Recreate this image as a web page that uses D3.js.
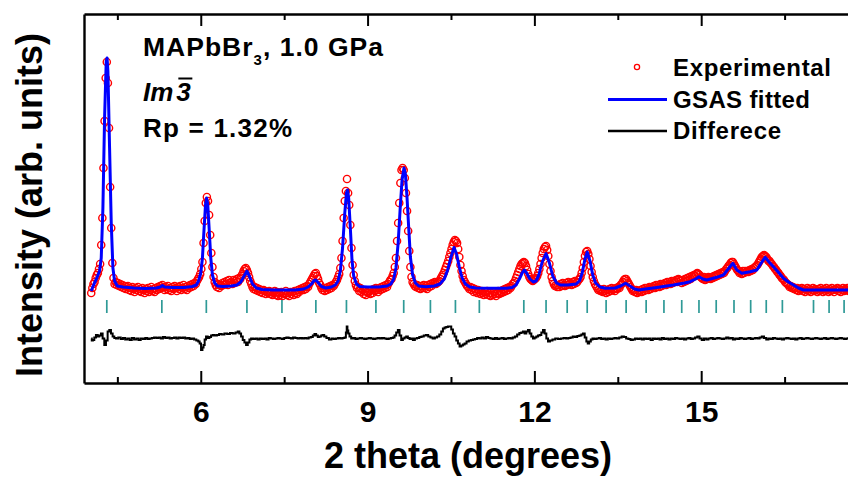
<!DOCTYPE html>
<html>
<head>
<meta charset="utf-8">
<script src="https://cdn.jsdelivr.net/npm/d3@7"></script>
<style>
  html, body { margin: 0; padding: 0; background: #fff; }
  svg { display: block; }
  text { font-family: "Liberation Sans", Arial, sans-serif; font-weight: bold; fill: #000; }
</style>
</head>
<body>
<svg id="chart" width="848" height="482"></svg>
<script>
// Powder pattern of MAPbBr3 at 1.0 GPa: observed points, GSAS fit, difference, reflections.

// observed intensities on a constant 2theta grid (start, step), counts in arb. units
const obsStart = 4.03;
const obsStep = 0.02;
const obsCounts = [
  /* 4.03 */ 90,95,99,101,105,108,110,114,119,138,
  /* 4.23 */ 165,215,262,305,321,300,255,196,155,120,
  /* 4.43 */ 105,99,101,98,100,97,99,96,98,95,
  /* 4.63 */ 97,94,96,97,93,95,92,96,94,91,
  /* 4.83 */ 95,93,96,92,94,91,95,93,90,94,
  /* 5.03 */ 92,95,91,93,96,92,94,91,95,93,
  /* 5.23 */ 96,94,97,95,98,96,93,96,94,97,
  /* 5.43 */ 93,95,92,96,94,97,95,92,96,94,
  /* 5.63 */ 97,93,95,98,94,96,93,97,95,98,
  /* 5.83 */ 96,99,97,100,99,102,104,106,109,114,
  /* 6.03 */ 121,140,162,180,186,182,168,148,130,116,
  /* 6.23 */ 106,101,98,96,99,95,98,97,100,98,
  /* 6.43 */ 101,99,102,98,103,100,101,99,103,100,
  /* 6.63 */ 102,104,101,105,104,107,109,112,114,115,
  /* 6.83 */ 113,110,106,102,99,96,94,96,93,95,
  /* 7.03 */ 92,94,91,93,90,93,92,89,91,90,
  /* 7.23 */ 92,89,91,88,90,92,88,91,87,90,
  /* 7.43 */ 88,91,87,90,89,92,88,90,87,91,
  /* 7.63 */ 89,91,88,92,90,89,93,91,94,93,
  /* 7.83 */ 95,93,96,94,97,96,99,101,103,105,
  /* 8.03 */ 107,109,110,107,104,100,98,95,93,95,
  /* 8.23 */ 92,95,93,96,94,97,95,98,97,99,
  /* 8.43 */ 101,103,106,109,115,125,142,165,182,192,
  /* 8.63 */ 204,190,178,158,135,118,108,102,98,95,
  /* 8.83 */ 96,92,95,91,93,89,92,88,91,90,
  /* 9.03 */ 92,89,93,90,94,92,95,93,91,95,
  /* 9.23 */ 93,96,94,97,95,98,96,99,101,103,
  /* 9.43 */ 104,107,110,116,125,142,160,180,200,213,
  /* 9.63 */ 215,213,205,190,172,152,132,116,106,101,
  /* 9.83 */ 99,97,96,98,95,97,94,97,95,98,
  /* 10.03 */ 95,97,94,98,96,99,97,100,99,101,
  /* 10.23 */ 99,100,101,102,104,106,108,110,113,116,
  /* 10.43 */ 119,122,126,130,134,138,141,143,142,140,
  /* 10.63 */ 134,126,118,112,107,103,101,99,97,96,
  /* 10.83 */ 94,96,93,95,91,94,92,90,93,91,
  /* 11.03 */ 89,92,90,88,91,89,92,88,90,87,
  /* 11.23 */ 90,88,91,89,87,90,92,89,91,90,
  /* 11.43 */ 93,91,94,92,95,93,96,95,97,99,
  /* 11.63 */ 100,102,105,108,111,114,117,119,120,121,
  /* 11.83 */ 120,117,113,109,106,104,103,102,103,104,
  /* 12.03 */ 105,107,110,114,119,125,130,134,136,137,
  /* 12.23 */ 133,127,119,112,106,102,99,97,98,96,
  /* 12.43 */ 98,96,99,97,100,98,97,100,98,101,
  /* 12.63 */ 99,100,98,101,99,102,100,101,103,104,
  /* 12.83 */ 106,110,115,121,127,131,132,129,124,117,
  /* 13.03 */ 111,106,102,99,97,95,93,94,92,93,
  /* 13.23 */ 91,94,92,90,93,91,94,92,95,93,
  /* 13.43 */ 94,92,95,94,96,95,98,99,101,103,
  /* 13.63 */ 104,104,102,100,98,96,94,92,93,91,
  /* 13.83 */ 93,90,92,91,93,91,94,92,95,93,
  /* 14.03 */ 95,93,96,94,96,95,97,95,98,96,
  /* 14.23 */ 98,96,99,97,99,98,100,98,101,99,
  /* 14.43 */ 101,99,102,100,102,101,103,101,104,103,
  /* 14.63 */ 102,100,103,101,104,102,105,103,106,104,
  /* 14.83 */ 107,106,108,107,109,110,109,108,106,105,
  /* 15.03 */ 104,106,103,105,104,106,105,104,106,105,
  /* 15.23 */ 107,106,108,107,109,108,110,109,111,110,
  /* 15.43 */ 112,114,115,117,118,120,121,121,119,117,
  /* 15.63 */ 115,113,112,110,111,109,112,110,112,111,
  /* 15.83 */ 112,111,113,112,114,113,115,116,117,118,
  /* 16.03 */ 120,122,124,126,127,128,127,126,124,122,
  /* 16.23 */ 122,120,119,117,116,114,113,111,110,108,
  /* 16.43 */ 107,105,104,103,101,100,99,98,96,97,
  /* 16.63 */ 95,96,94,95,93,95,92,94,93,95,
  /* 16.83 */ 92,94,91,93,95,92,94,91,93,95,
  /* 17.03 */ 92,94,93,91,94,92,95,93,91,94,
  /* 17.23 */ 92,95,93,91,94,92,95,93,91,94,
  /* 17.43 */ 93,95,92,94,91,93,95,92,94,93,
  /* 17.63 */ 95,92,94,93,95
];

// GSAS calculated profile [2theta, counts]
const calcData = [
  [4.03,92],[4.08,99],[4.13,105],[4.18,112],[4.21,125],[4.24,175],[4.27,265],[4.30,322],[4.315,325],[4.33,312],
  [4.36,235],[4.39,160],[4.42,115],[4.45,102],[4.50,97],[4.60,96],[4.80,95],[5.00,94.5],[5.20,95],[5.27,96],
  [5.31,97.5],[5.35,96],[5.50,95.5],[5.70,95.5],[5.85,96.5],[5.92,98],[5.96,102],[6.00,110],[6.03,125],[6.06,155],
  [6.085,178],[6.105,185],[6.125,179],[6.15,155],[6.18,125],[6.21,108],[6.25,100],[6.30,97],[6.40,96.5],[6.55,97],
  [6.65,98],[6.72,101],[6.78,107],[6.83,112],[6.88,106],[6.93,99],[7.00,95],[7.10,93.5],[7.30,93],[7.50,93],
  [7.70,93],[7.85,94],[7.93,96],[7.99,99],[8.04,102.5],[8.07,103],[8.11,100.5],[8.17,96.5],[8.25,95],[8.35,96],
  [8.42,98],[8.47,102],[8.51,112],[8.55,135],[8.59,170],[8.62,190],[8.64,193],[8.66,185],[8.69,155],[8.72,123],
  [8.75,107],[8.80,99],[8.86,96.5],[9.00,96],[9.20,96],[9.35,97],[9.42,99],[9.47,104],[9.51,115],[9.55,140],
  [9.59,178],[9.62,203],[9.655,215],[9.68,209],[9.71,185],[9.74,155],[9.77,126],[9.81,108],[9.86,100],[9.92,97],
  [10.05,96.3],[10.20,97],[10.30,99],[10.38,104],[10.44,113],[10.50,126],[10.555,135.5],[10.60,129],[10.65,116],[10.70,105],
  [10.76,99],[10.84,96],[10.95,95],[11.20,94.7],[11.50,94.7],[11.60,95.5],[11.67,98],[11.73,104],[11.78,110],[11.82,113],
  [11.86,110],[11.92,104],[11.98,101],[12.03,102],[12.08,108],[12.14,121],[12.21,129.5],[12.27,120],[12.33,107],[12.40,100],
  [12.47,98],[12.60,98],[12.75,99],[12.81,102],[12.86,110],[12.91,124],[12.95,131],[13.00,122],[13.05,108],[13.10,100],
  [13.18,96],[13.28,94.7],[13.45,95],[13.55,97],[13.64,99.7],[13.72,97],[13.80,94],[13.88,93],[14.00,94],[14.20,95.5],
  [14.50,98],[14.70,100],[14.80,101.3],[14.90,104],[14.96,106.3],[15.03,104],[15.10,103],[15.20,104.5],[15.28,105.7],[15.40,108],
  [15.50,115],[15.57,119.7],[15.64,113],[15.73,109.7],[15.88,111.3],[16.00,113],[16.08,120],[16.15,125.7],[16.22,121],[16.30,116.3],
  [16.40,110],[16.48,104.7],[16.57,101],[16.66,98],[16.75,95],[16.84,93],[17.00,93],[17.30,93],[17.72,93]
];

// obs - calc residual [2theta, counts]
const diffData = [
  [4.03,0],[4.05,-2],[4.07,-1.5],[4.10,1],[4.13,3.5],[4.16,2],[4.19,3],[4.22,5],[4.25,0],[4.28,-6.5],
  [4.31,-2],[4.34,7],[4.37,8.5],[4.40,5],[4.43,2],[4.46,0.5],[4.49,0],[4.54,1],[4.58,-0.5],[4.62,0.5],
  [4.66,-1],[4.70,0],[4.74,-1.5],[4.78,0.5],[4.82,-1],[4.86,0],[4.90,-1.5],[4.94,0],[4.98,-0.5],[5.02,0.5],
  [5.06,-0.5],[5.10,0],[5.14,0.5],[5.18,1],[5.22,0.5],[5.26,1],[5.30,0],[5.34,1.5],[5.38,0.5],[5.42,1],
  [5.46,0],[5.50,0.5],[5.54,1],[5.58,0],[5.62,1],[5.66,0.5],[5.70,1],[5.74,0],[5.78,0.5],[5.82,-0.5],
  [5.86,0],[5.90,-1],[5.94,-2],[5.97,-3],[5.99,-5],[6.02,-11.5],[6.04,-9],[6.06,-6.5],[6.08,-1],[6.11,2],
  [6.14,0.5],[6.17,1.5],[6.20,3],[6.23,3.5],[6.27,3],[6.31,3.5],[6.35,4.5],[6.40,4],[6.45,5],[6.50,4.5],
  [6.55,5.5],[6.60,5],[6.65,6],[6.68,7],[6.71,5],[6.74,2],[6.77,-1.5],[6.80,-4],[6.83,-6.5],[6.86,-4],
  [6.89,-1],[6.92,0],[6.96,-0.5],[7.00,0],[7.04,-1],[7.08,0],[7.12,-0.5],[7.16,0],[7.20,-1],[7.24,0.5],
  [7.28,0],[7.32,-0.5],[7.36,0],[7.40,0.5],[7.44,0],[7.48,-0.5],[7.52,0.5],[7.56,1],[7.60,0.5],[7.64,0],
  [7.68,1],[7.72,0.5],[7.76,0],[7.80,0.5],[7.84,0],[7.88,0.5],[7.92,0],[7.96,1],[8.00,1.5],[8.03,3],
  [8.06,4.5],[8.09,3],[8.12,1.5],[8.15,2],[8.18,3],[8.20,3.5],[8.24,2],[8.28,0.5],[8.33,-1],[8.37,0],
  [8.41,-0.5],[8.45,0],[8.49,0.5],[8.53,0],[8.57,0.5],[8.60,1],[8.62,6],[8.63,12],[8.645,8],[8.66,5],
  [8.69,2],[8.72,0],[8.76,0.5],[8.80,-0.5],[8.84,0],[8.88,0.5],[8.92,0],[8.96,-0.5],[9.00,0],[9.04,0.5],
  [9.08,0],[9.12,-0.5],[9.16,0],[9.20,0.5],[9.24,0],[9.28,0.5],[9.32,0],[9.36,-0.5],[9.40,0],[9.44,0.5],
  [9.47,1],[9.50,3],[9.53,6],[9.56,8.5],[9.59,3],[9.62,-1.5],[9.65,0],[9.68,1],[9.71,2],[9.74,0.5],
  [9.77,-0.5],[9.80,0],[9.83,-1.5],[9.87,0],[9.91,0.5],[9.95,1.5],[9.99,2],[10.03,3],[10.07,3.5],[10.11,2],
  [10.15,1],[10.19,0],[10.23,1],[10.27,2],[10.31,4],[10.34,7],[10.37,10],[10.40,11],[10.43,11.5],[10.46,12],
  [10.49,12],[10.52,9],[10.55,5],[10.58,2],[10.61,-2],[10.64,-5],[10.67,-8],[10.70,-7],[10.73,-6],[10.76,-5],
  [10.80,-3],[10.84,-2],[10.88,-1.5],[10.91,-1],[10.95,-0.5],[10.99,0.5],[11.03,0],[11.07,1],[11.11,0],[11.15,1.5],
  [11.19,0.5],[11.23,0],[11.27,-0.5],[11.31,0.5],[11.35,-0.5],[11.39,0],[11.43,0.5],[11.47,-0.5],[11.51,0],[11.55,0.5],
  [11.59,0],[11.63,1],[11.67,2],[11.71,4],[11.75,5.5],[11.78,6],[11.81,7],[11.84,5],[11.87,7],[11.90,8.5],
  [11.93,5],[11.96,2],[11.99,0],[12.02,1],[12.05,2],[12.08,3],[12.11,3.5],[12.14,6],[12.17,8.5],[12.20,5],
  [12.23,0],[12.26,-3],[12.30,-2],[12.35,-1],[12.40,0],[12.45,-0.5],[12.50,0],[12.55,0.5],[12.59,0],[12.63,0.5],
  [12.67,1],[12.71,2],[12.75,1.5],[12.79,2.5],[12.83,3],[12.86,4],[12.89,5],[12.92,1],[12.95,-3],[12.97,-5],
  [13.00,-3],[13.03,-1],[13.06,0],[13.10,-0.5],[13.14,0],[13.18,0.5],[13.22,-0.5],[13.26,0],[13.30,-1],[13.34,0],
  [13.38,-0.5],[13.42,0],[13.46,0.5],[13.50,0],[13.55,1],[13.59,2],[13.63,1.5],[13.67,0],[13.71,-0.5],[13.75,-1.5],
  [13.79,-1],[13.83,0],[13.87,-0.5],[13.91,0],[13.95,-1],[13.99,0],[14.03,-0.5],[14.07,0],[14.11,-1.5],[14.15,0],
  [14.19,-0.5],[14.23,0],[14.27,-1],[14.31,0.5],[14.35,-0.5],[14.39,0],[14.43,-1],[14.47,0],[14.51,-0.5],[14.55,0.5],
  [14.59,0],[14.63,-0.5],[14.67,0],[14.71,-1],[14.75,0],[14.79,0.5],[14.83,-0.5],[14.87,0],[14.91,1],[14.95,2],
  [14.99,0],[15.03,-1.5],[15.07,0],[15.11,-1],[15.15,0],[15.19,0.5],[15.23,-0.5],[15.27,0],[15.31,0.5],[15.35,0],
  [15.39,-0.5],[15.43,0],[15.47,1],[15.51,0],[15.55,0.5],[15.59,-1],[15.63,0],[15.67,-0.5],[15.71,0.5],[15.75,0],
  [15.79,-0.5],[15.83,0],[15.87,0.5],[15.91,-0.5],[15.95,0],[15.99,0.5],[16.03,0],[16.07,1],[16.11,2],[16.15,0.5],
  [16.19,-1],[16.23,0],[16.27,-0.5],[16.31,0.5],[16.35,0],[16.39,-0.5],[16.43,0],[16.47,-1],[16.51,0],[16.55,0.5],
  [16.59,0],[16.63,-0.5],[16.67,0],[16.71,-1],[16.75,0],[16.79,0.5],[16.83,-0.5],[16.87,0],[16.91,0.5],[16.95,0],
  [16.99,-0.5],[17.03,0],[17.07,0.5],[17.11,0],[17.15,-0.5],[17.19,0],[17.23,0.5],[17.27,-0.5],[17.31,0],[17.35,0.5],
  [17.39,0],[17.43,-0.5],[17.47,0],[17.51,0.5],[17.55,0],[17.59,-0.5],[17.63,0],[17.67,0.5],[17.72,0]
];

// Bragg reflection positions (2theta) for Im-3
const reflections = [4.31,5.30,6.10,6.83,7.46,8.07,8.62,9.15,9.65,10.13,10.58,11.01,11.81,12.21,12.59,12.95,
  13.29,13.65,14.01,14.33,14.65,14.96,15.27,15.59,15.89,16.17,16.46,17.02,17.30,17.57];

const majorTicks = [6, 9, 12, 15];
const minorTicks = [4.5, 7.5, 10.5, 13.5, 16.5];

// vertical placement of the residual trace and the reflection markers (counts)
const DIFF_BASE = 44.5;
const REFL_LOW = 70, REFL_HIGH = 83;

const obsData = obsCounts.map((c, i) => [obsStart + i * obsStep, c]);

const svg = d3.select("#chart");
const x = d3.scaleLinear().domain([3.9, 18.5]).range([84, 895.8]);
const y = d3.scaleLinear().domain([0, 369]).range([383, 14]);

const FONT = '"Liberation Sans", Arial, sans-serif';

// observed points
svg.append("g").selectAll("circle").data(obsData).join("circle")
  .attr("cx", d => x(d[0])).attr("cy", d => y(d[1])).attr("r", 3.6)
  .attr("fill", "none").attr("stroke", "#ff0000").attr("stroke-width", 1.4);

// calculated profile
svg.append("path").datum(calcData)
  .attr("fill", "none").attr("stroke", "#0000ff").attr("stroke-width", 3)
  .attr("stroke-linejoin", "round")
  .attr("d", d3.line().x(d => x(d[0])).y(d => y(d[1])));

// reflection markers
svg.append("g").selectAll("line").data(reflections).join("line")
  .attr("x1", d => x(d)).attr("x2", d => x(d))
  .attr("y1", y(REFL_LOW)).attr("y2", y(REFL_HIGH))
  .attr("stroke", "#2f9a97").attr("stroke-width", 1.7);

// difference curve
svg.append("path").datum(diffData)
  .attr("fill", "none").attr("stroke", "#000").attr("stroke-width", 2)
  .attr("d", d3.line().curve(d3.curveStep).x(d => x(d[0])).y(d => y(DIFF_BASE + d[1])));

// axes / frame
function styleAxis(g) {
  g.select(".domain").attr("stroke", "#000").attr("stroke-width", 2.4);
  g.selectAll(".tick line").attr("stroke", "#000").attr("stroke-width", 2);
}
const bottom = svg.append("g").attr("transform", "translate(0,383)")
  .call(d3.axisBottom(x).tickValues(majorTicks).tickSizeInner(-12).tickSizeOuter(0).tickPadding(18))
  .call(styleAxis);
bottom.selectAll(".tick text")
  .attr("font-family", FONT).attr("font-weight", "bold").attr("font-size", 30).attr("fill", "#000")
  .attr("y", 39).attr("dy", 0);
svg.append("g").attr("transform", "translate(0,383)")
  .call(d3.axisBottom(x).tickValues(minorTicks).tickSizeInner(-6).tickSizeOuter(0).tickFormat(""))
  .call(styleAxis).select(".domain").remove();

svg.append("g").attr("transform", "translate(0,14)")
  .call(d3.axisTop(x).tickValues(majorTicks).tickSizeInner(-12).tickSizeOuter(0).tickFormat(""))
  .call(styleAxis);
svg.append("g").attr("transform", "translate(0,14)")
  .call(d3.axisTop(x).tickValues(minorTicks).tickSizeInner(-6).tickSizeOuter(0).tickFormat(""))
  .call(styleAxis).select(".domain").remove();

svg.append("g").attr("transform", "translate(84,0)")
  .call(d3.axisLeft(y).tickValues([]).tickSizeOuter(0))
  .call(styleAxis);

// axis titles
svg.append("text").attr("x", 468).attr("y", 468)
  .attr("text-anchor", "middle").attr("font-size", 36)
  .text("2 theta (degrees)");
svg.append("text").attr("transform", "translate(42,205) rotate(-90)")
  .attr("text-anchor", "middle").attr("font-size", 36)
  .text("Intensity (arb. units)");

// sample annotation
const t1 = svg.append("text").attr("x", 143).attr("y", 56).attr("font-size", 26.5)
  .attr("textLength", 240).attr("lengthAdjust", "spacing");
t1.append("tspan").text("MAPbBr");
t1.append("tspan").attr("font-size", 15).attr("dy", 9).text("3");
t1.append("tspan").attr("dy", -9).text(", 1.0 GPa");

const sgIm = svg.append("text").attr("x", 143).attr("y", 100.5).attr("font-size", 26)
  .attr("font-style", "italic").text("Im");
const imW = sgIm.node().getComputedTextLength();
const sg3 = svg.append("text").attr("x", 143 + imW + 3).attr("y", 100.5).attr("font-size", 26)
  .attr("font-style", "italic").text("3");
const b3 = sg3.node().getBBox();
svg.append("line")
  .attr("x1", b3.x + 2).attr("x2", b3.x + b3.width + 1)
  .attr("y1", 78.5).attr("y2", 78.5).attr("stroke", "#000").attr("stroke-width", 2);

svg.append("text").attr("x", 143).attr("y", 137).attr("font-size", 26)
  .attr("textLength", 149).attr("lengthAdjust", "spacing").text("Rp = 1.32%");

// legend
const leg = svg.append("g");
leg.append("circle").attr("cx", 637).attr("cy", 67).attr("r", 2.6)
  .attr("fill", "none").attr("stroke", "#ff0000").attr("stroke-width", 1.3);
leg.append("line").attr("x1", 608).attr("x2", 667).attr("y1", 99.5).attr("y2", 99.5)
  .attr("stroke", "#0000ff").attr("stroke-width", 3);
leg.append("line").attr("x1", 608).attr("x2", 667).attr("y1", 131).attr("y2", 131)
  .attr("stroke", "#000").attr("stroke-width", 2.4);
const legItems = [["Experimental", 76, 158], ["GSAS fitted", 107.5, 137], ["Differece", 138.5, 108]];
leg.selectAll("text").data(legItems).join("text")
  .attr("x", 673).attr("y", d => d[1]).attr("font-size", 24)
  .attr("textLength", d => d[2]).attr("lengthAdjust", "spacing")
  .text(d => d[0]);
</script>
</body>
</html>
